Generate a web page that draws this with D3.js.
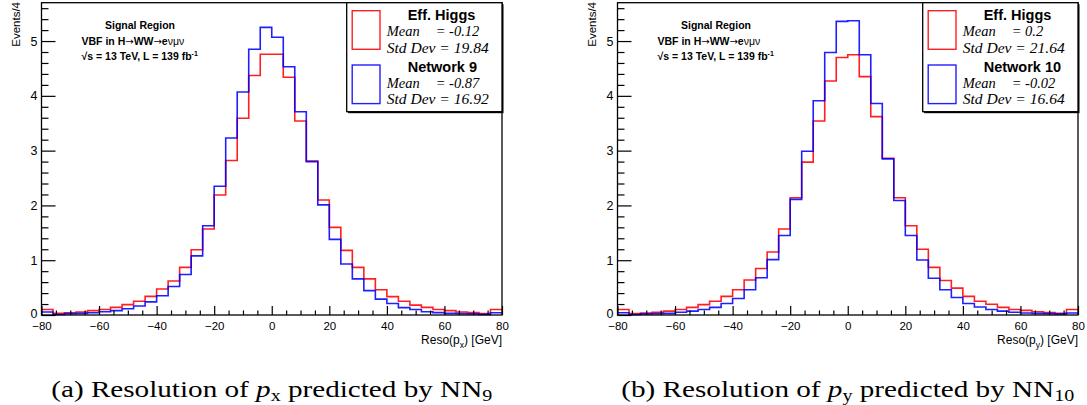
<!DOCTYPE html>
<html>
<head>
<meta charset="utf-8">
<script src="https://cdn.jsdelivr.net/npm/d3@7"></script>
<style>
  body { margin: 0; background: #fff; }
  svg { display: block; }
  text { font-family: "Liberation Sans", Arial, sans-serif; fill: #000; }
</style>
</head>
<body>
<svg id="chart" width="1087" height="405"></svg>
<script>
// Histogram binning: 40 bins of 4 GeV between -80 and 80 GeV
const binEdges = d3.range(-80, 80.001, 4);
const xTickValues = [-80, -60, -40, -20, 0, 20, 40, 60, 80];
const yTickValues = [0, 1, 2, 3, 4, 5];

// Resolution of p_x (events per 4 GeV)
const pxEffHiggs = [0.10, 0.03, 0.04, 0.055, 0.08, 0.10, 0.14, 0.19, 0.25, 0.34,
                    0.475, 0.62, 0.87, 1.19, 1.57, 2.19, 2.82, 3.59, 4.37, 4.76,
                    4.76, 4.34, 3.54, 2.81, 2.10, 1.60, 1.18, 0.87, 0.66, 0.46,
                    0.335, 0.25, 0.18, 0.14, 0.10, 0.08, 0.055, 0.043, 0.025, 0.10];
const pxNetwork9 = [0.055, 0.01, 0.025, 0.03, 0.04, 0.06, 0.08, 0.115, 0.165, 0.24,
                    0.35, 0.52, 0.74, 1.08, 1.63, 2.35, 3.23, 4.07, 4.85, 5.25,
                    5.07, 4.53, 3.71, 2.80, 2.01, 1.38, 0.93, 0.66, 0.445, 0.29,
                    0.21, 0.134, 0.10, 0.06, 0.043, 0.03, 0.025, 0.02, 0.012, 0.04];

// Resolution of p_y (events per 4 GeV)
const pyEffHiggs = [0.10, 0.025, 0.037, 0.05, 0.07, 0.10, 0.14, 0.19, 0.25, 0.34,
                    0.46, 0.64, 0.85, 1.15, 1.57, 2.14, 2.79, 3.54, 4.27, 4.70,
                    4.75, 4.35, 3.62, 2.86, 2.14, 1.63, 1.20, 0.87, 0.63, 0.49,
                    0.34, 0.25, 0.195, 0.14, 0.10, 0.085, 0.06, 0.043, 0.03, 0.10];
const pyNetwork10 = [0.04, 0.01, 0.02, 0.025, 0.03, 0.05, 0.07, 0.10, 0.14, 0.21,
                     0.30, 0.46, 0.68, 1.01, 1.45, 2.11, 2.99, 3.91, 4.79, 5.36,
                     5.37, 4.75, 3.86, 2.85, 2.09, 1.45, 1.005, 0.67, 0.46, 0.32,
                     0.21, 0.146, 0.10, 0.07, 0.05, 0.037, 0.03, 0.025, 0.02, 0.037];

const seriesNames = ["Eff. Higgs", "Network 9", "Eff. Higgs", "Network 10"];
const seriesMeans = ["-0.12", "-0.87", "0.2", "-0.02"];
const seriesStdDevs = ["19.84", "16.92", "21.64", "16.64"];
const seriesColors = ["#ff0000", "#0000ff"];

const panels = [
  { x0: 41.5, x1: 502, comp: "x", tag: "(a)", nn: "9",
    series: [pxEffHiggs, pxNetwork9], names: [0, 1], capWidth: 441 },
  { x0: 617.5, x1: 1078, comp: "y", tag: "(b)", nn: "10",
    series: [pyEffHiggs, pyNetwork10], names: [2, 3], capWidth: 453 }
];

const svg = d3.select("#chart");
const yTop = 2.7, yBottom = 315, yMax = 5.7;
const serif = "'Liberation Serif', 'Times New Roman', serif";

panels.forEach(p => {
  const g = svg.append("g");
  const x = d3.scaleLinear().domain([-80, 80]).range([p.x0, p.x1]);
  const y = d3.scaleLinear().domain([0, yMax]).range([yBottom, yTop]);

  // Step outlines of the two histograms
  const line = d3.line()
    .x(d => x(d[0])).y(d => y(d[1]))
    .curve(d3.curveStepAfter);
  p.series.forEach((vals, i) => {
    const pts = vals.map((v, k) => [binEdges[k], v]);
    pts.push([binEdges[binEdges.length - 1], vals[vals.length - 1]]);
    g.append("path")
      .attr("d", line(pts))
      .attr("fill", "none")
      .attr("stroke", seriesColors[i])
      .attr("stroke-width", 1.6)
      .attr("stroke-opacity", 0.88);
  });

  // Axes with ticks drawn inside the frame
  const styleAxis = sel => {
    sel.select(".domain").remove();
    sel.selectAll("line").attr("stroke", "#000").attr("stroke-width", 1.2);
    sel.selectAll("text").style("font-size", "11.5px")
      .style("font-family", "'Liberation Sans', Arial, sans-serif");
  };
  g.append("g").attr("transform", `translate(0,${yBottom})`)
    .call(d3.axisBottom(x).tickValues(xTickValues).tickSize(-9).tickPadding(7.3)
      .tickFormat(d3.format("d")))
    .call(styleAxis);
  g.append("g").attr("transform", `translate(0,${yBottom})`)
    .call(d3.axisBottom(x).tickValues(d3.range(-80, 81, 5).filter(v => v % 20 !== 0))
      .tickSize(-4.5).tickFormat(""))
    .call(styleAxis);
  g.append("g").attr("transform", `translate(${p.x0},0)`)
    .call(d3.axisLeft(y).tickValues(yTickValues).tickSize(-14).tickPadding(4)
      .tickFormat(d3.format("d")))
    .call(styleAxis)
    .call(sel => sel.selectAll("text")
      .style("font-size", "12.5px")
      .attr("dy", d => d === 0 ? "0.16em" : "0.32em"));
  g.append("g").attr("transform", `translate(${p.x0},0)`)
    .call(d3.axisLeft(y).tickValues(d3.range(0, yMax, 0.2).filter(v => Math.abs(v - Math.round(v)) > 0.01))
      .tickSize(-7).tickFormat(""))
    .call(styleAxis);

  // Frame
  g.append("rect")
    .attr("x", p.x0).attr("y", yTop)
    .attr("width", p.x1 - p.x0).attr("height", yBottom - yTop)
    .attr("fill", "none").attr("stroke", "#000").attr("stroke-width", 1.3);

  // Axis titles
  g.append("text")
    .attr("transform", `translate(${p.x0 - 21.5},2) rotate(-90)`)
    .attr("text-anchor", "end")
    .style("font-size", "11.5px")
    .text("Events/4");
  const xt = g.append("text")
    .attr("x", p.x1).attr("y", 344)
    .attr("text-anchor", "end")
    .style("font-size", "12px");
  xt.append("tspan").text("Reso(p");
  xt.append("tspan").attr("dy", 3.5).style("font-size", "8.5px").text(p.comp);
  xt.append("tspan").attr("dy", -3.5).text(") [GeV]");

  // Analysis annotation
  const ax = p.x0 + 40;
  g.append("text").attr("x", p.x0 + 98.5).attr("y", 29.3)
    .attr("text-anchor", "middle")
    .style("font-size", "10.5px").style("font-weight", "bold")
    .text("Signal Region");
  const vbf = g.append("text").attr("x", ax).attr("y", 45)
    .style("font-size", "10.5px");
  [["VBF in H", "b"], ["\u2192", "a"], ["WW", "b"], ["\u2192", "a"],
   ["e", "b"], ["\u03bd\u03bc\u03bd", "n"]].forEach(([t, k]) => {
    const ts = vbf.append("tspan").style("font-weight", k === "b" ? "bold" : "normal").text(t);
    if (k === "a") ts.style("font-family", "'DejaVu Sans', sans-serif").style("font-size", "10px");
  });
  const lum = g.append("text").attr("x", ax).attr("y", 60)
    .style("font-size", "10.5px").style("font-weight", "bold");
  lum.append("tspan").text("\u221as = 13 TeV, L = 139 fb");
  lum.append("tspan").attr("dy", -4).style("font-size", "7px").text("-1");

  // Legend box with shadow
  const L = p.x0 + 305.2, LT = yTop, LW = p.x1 - L, LH = 109;
  g.append("rect").attr("x", L + 1.5).attr("y", LT + 1.5)
    .attr("width", LW).attr("height", LH).attr("fill", "#000");
  g.append("rect").attr("x", L).attr("y", LT)
    .attr("width", LW).attr("height", LH)
    .attr("fill", "#fff").attr("stroke", "#000").attr("stroke-width", 1.3);

  const headerY = [20, 71.5], meanY = [36, 87.7], stdY = [52.5, 104];
  [0, 1].forEach(i => {
    const idx = p.names[i];
    g.append("rect")
      .attr("x", L + 5.5).attr("y", i === 0 ? 10.7 : 65)
      .attr("width", 27.8).attr("height", 38.6)
      .attr("fill", "none").attr("stroke", seriesColors[i])
      .attr("stroke-width", 1.4).attr("stroke-opacity", 0.88);
    g.append("text").attr("x", L + 61).attr("y", headerY[i])
      .style("font-size", "14.5px").style("font-weight", "bold")
      .text(seriesNames[idx]);
    g.append("text").attr("x", L + 40).attr("y", meanY[i])
      .style("font-family", serif).style("font-style", "italic").style("font-size", "14.5px")
      .text("Mean");
    g.append("text").attr("x", L + 89).attr("y", meanY[i])
      .style("font-family", serif).style("font-style", "italic").style("font-size", "14.5px")
      .text("= " + seriesMeans[idx]);
    g.append("text").attr("x", L + 40).attr("y", stdY[i])
      .attr("textLength", 102).attr("lengthAdjust", "spacingAndGlyphs")
      .style("font-family", serif).style("font-style", "italic").style("font-size", "14.5px")
      .text("Std Dev = " + seriesStdDevs[idx]);
  });

  // Caption
  const cap = svg.append("text")
    .attr("x", (p.x0 + p.x1) / 2).attr("y", 397)
    .attr("text-anchor", "middle")
    .attr("textLength", p.capWidth).attr("lengthAdjust", "spacingAndGlyphs")
    .style("font-family", serif)
    .style("font-size", "24px");
  cap.append("tspan").text(p.tag + " Resolution of ");
  cap.append("tspan").style("font-style", "italic").text("p");
  cap.append("tspan").attr("dy", 4).style("font-size", "16.5px").text(p.comp);
  cap.append("tspan").attr("dy", -4).text(" predicted by NN");
  cap.append("tspan").attr("dy", 4).style("font-size", "16.5px").text(p.nn);
});
</script>
</body>
</html>
